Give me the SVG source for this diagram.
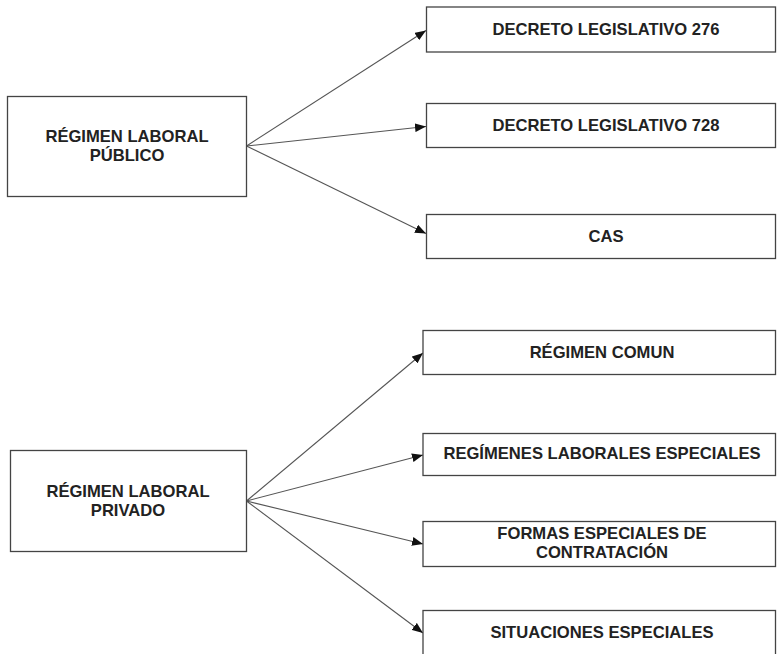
<svg xmlns="http://www.w3.org/2000/svg" width="777" height="654" viewBox="0 0 777 654">
<defs>
<style>
.box{fill:#fff;stroke:#444;stroke-width:1.3}
.t{font-family:"Liberation Sans",Arial,sans-serif;font-weight:bold;font-size:16.6px;fill:#222;text-anchor:middle}
.c{stroke:#555;stroke-width:1.1;fill:none;marker-end:url(#ah)}
</style>
<marker id="ah" viewBox="0 0 10 8" refX="10" refY="4" markerWidth="11" markerHeight="9" markerUnits="userSpaceOnUse" orient="auto">
<path d="M0,0 L10,4 L0,8 Z" fill="#111"/>
</marker>
</defs>
<rect width="777" height="654" fill="#fff"/>
<g id="connectors">
<line class="c" x1="246.5" y1="146" x2="426" y2="30.5"/>
<line class="c" x1="246.5" y1="146" x2="426" y2="126.5"/>
<line class="c" x1="246.5" y1="146" x2="426" y2="233.5"/>
<line class="c" x1="246.5" y1="501" x2="423" y2="353"/>
<line class="c" x1="246.5" y1="501" x2="423" y2="455"/>
<line class="c" x1="246.5" y1="501" x2="423" y2="544"/>
<line class="c" x1="246.5" y1="501" x2="423" y2="633"/>
</g>
<g id="publico">
<rect class="box" x="7.5" y="96.5" width="239" height="100"/>
<text class="t" x="127" y="142">RÉGIMEN LABORAL</text>
<text class="t" x="127" y="161">PÚBLICO</text>
</g>
<g id="dl276">
<rect class="box" x="426.5" y="7" width="349" height="45"/>
<text class="t" x="606" y="35">DECRETO LEGISLATIVO 276</text>
</g>
<g id="dl728">
<rect class="box" x="426.5" y="103.5" width="349" height="44"/>
<text class="t" x="606" y="131">DECRETO LEGISLATIVO 728</text>
</g>
<g id="cas">
<rect class="box" x="426.5" y="214.5" width="349" height="44"/>
<text class="t" x="606" y="242">CAS</text>
</g>
<g id="privado">
<rect class="box" x="10.5" y="450.5" width="236" height="101"/>
<text class="t" x="128" y="497">RÉGIMEN LABORAL</text>
<text class="t" x="128" y="516">PRIVADO</text>
</g>
<g id="comun">
<rect class="box" x="423" y="330.5" width="352.5" height="44"/>
<text class="t" x="602" y="358">RÉGIMEN COMUN</text>
</g>
<g id="rle">
<rect class="box" x="423" y="433.5" width="352.5" height="42"/>
<text class="t" x="602" y="459">REGÍMENES LABORALES ESPECIALES</text>
</g>
<g id="fec">
<rect class="box" x="423" y="521.5" width="352.5" height="45"/>
<text class="t" x="602" y="539">FORMAS ESPECIALES DE</text>
<text class="t" x="602" y="558">CONTRATACIÓN</text>
</g>
<g id="se">
<rect class="box" x="423" y="610.5" width="352.5" height="50"/>
<text class="t" x="602" y="638">SITUACIONES ESPECIALES</text>
</g>
</svg>
